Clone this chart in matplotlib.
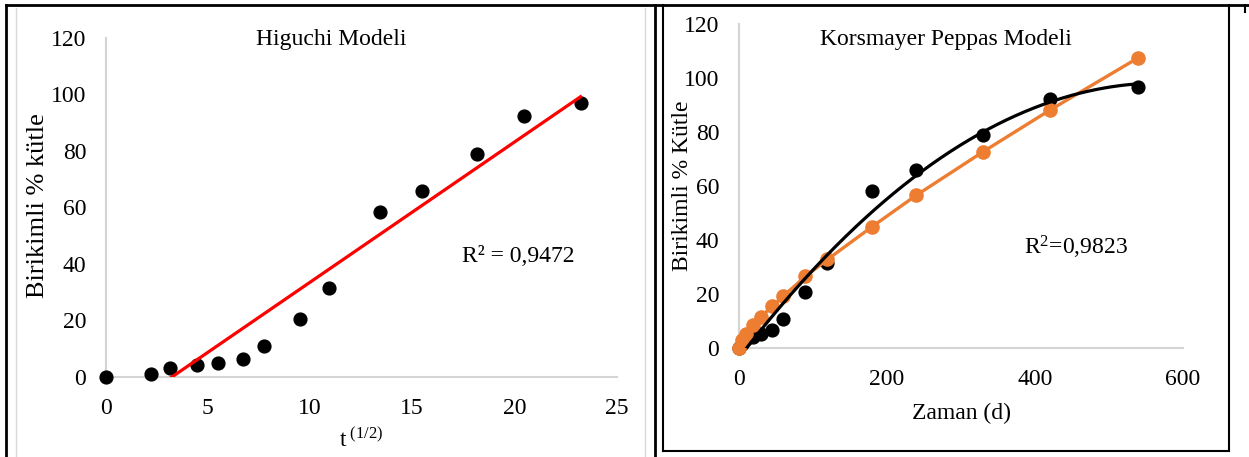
import matplotlib
matplotlib.use("Agg")
import matplotlib.pyplot as plt
from matplotlib.lines import Line2D
import numpy as np

plt.rcParams['font.family'] = ['Liberation Serif', 'DejaVu Serif']
plt.rcParams['mathtext.fontset'] = 'custom'
plt.rcParams['mathtext.rm'] = 'Liberation Serif'
plt.rcParams['mathtext.it'] = 'Liberation Serif:italic'

# data
time_d = [0, 5, 10, 20, 30, 45, 60, 90, 120, 180, 240, 330, 420, 540]
sqrt_t = [0, 2.24, 3.16, 4.47, 5.48, 6.71, 7.75, 9.49, 10.95, 13.42, 15.49, 18.17, 20.49, 23.24]
release = [0, 1.2, 3.2, 4.1, 4.9, 6.4, 10.8, 20.5, 31.4, 58.2, 65.7, 78.8, 92.2, 96.7]
kp_model = [0, 2.9, 5.0, 8.4, 11.4, 15.3, 19.0, 26.4, 32.7, 44.8, 56.5, 72.6, 88.0, 107.5]

W, H = 1249, 457
FS = 17


def fx(x):
    return x / W


def fy(y):
    return 1 - y / H


fig = plt.figure(figsize=(W / 100, H / 100), dpi=100)

ax1 = fig.add_axes([fx(105.7), fy(377), (616.5 - 105.7) / W, (377 - 37.5) / H])
ax2 = fig.add_axes([fx(738.6), fy(347.7), (1182.8 - 738.6) / W, (347.7 - 24) / H])

for ax in (ax1, ax2):
    for s in ('top', 'right'):
        ax.spines[s].set_visible(False)
    for s in ('left', 'bottom'):
        ax.spines[s].set_color('#d4d4d4')
        ax.spines[s].set_linewidth(1.5)
    ax.set_facecolor('none')

# Higuchi
ax1.scatter(sqrt_t, release, s=85, color='black', zorder=3, clip_on=False)
k1 = np.polyfit(sqrt_t, release, 1)
xx = np.array([0, sqrt_t[-1]])
ax1.plot(xx, np.polyval(k1, xx), color='#ff0000', lw=2.3, zorder=4)
ax1.set_xlim(0, 25)
ax1.set_ylim(0, 120)
ax1.set_xticks([0, 5, 10, 15, 20, 25])
ax1.set_yticks([0, 20, 40, 60, 80, 100, 120])
ax1.tick_params(axis='x', length=0, labelsize=FS, pad=15)
ax1.tick_params(axis='y', length=0, labelsize=FS, pad=14)

# Korsmeyer Peppas
ax2.scatter(time_d, release, s=85, color='black', zorder=3, clip_on=False)
ax2.plot(time_d, kp_model, color='#ed7d31', lw=2.4, marker='o', ms=9.5, zorder=4, clip_on=False)
k2 = np.polyfit(time_d, release, 2)
tt = np.linspace(0, time_d[-1], 300)
ax2.plot(tt, np.polyval(k2, tt), color='black', lw=2.3, zorder=5)
ax2.set_xlim(0, 600)
ax2.set_ylim(0, 120)
ax2.set_xticks([0, 200, 400, 600])
ax2.set_yticks([0, 20, 40, 60, 80, 100, 120])
ax2.tick_params(axis='x', length=0, labelsize=FS, pad=15)
ax2.tick_params(axis='y', length=0, labelsize=FS, pad=14)

# texts
fig.text(fx(331), fy(40), 'Higuchi Modeli', fontsize=FS, ha='center', va='center')
fig.text(fx(518), fy(257), 'R² = 0,9472', fontsize=FS, ha='center', va='center')
fig.text(fx(38), fy(206), 'Birikimli % kütle', fontsize=19, rotation=90, ha='center', va='center')
fig.text(fx(361), fy(440), r'$\mathrm{t}^{\ (1/2)}$', fontsize=FS, ha='center', va='center')

fig.text(fx(946), fy(40), 'Korsmayer Peppas Modeli', fontsize=FS, ha='center', va='center')
fig.text(fx(1076), fy(247), r'R$^{2}$=0,9823', fontsize=FS, ha='center', va='center')
fig.text(fx(682), fy(186), 'Birikimli % Kütle', fontsize=FS, rotation=90, ha='center', va='center')
fig.text(fx(961), fy(413), 'Zaman (d)', fontsize=FS, ha='center', va='center')

# panel frames
frame = [
    ((6, 5), (1249, 5), 'black', 2),
    ((6, 5), (6, 457), 'black', 2),
    ((16, 8), (16, 457), '#d9d9d9', 1),
    ((645, 8), (645, 457), '#d9d9d9', 1),
    ((655, 5), (655, 457), 'black', 2),
    ((663, 5), (663, 451), 'black', 1.5),
    ((663, 451), (1229, 451), 'black', 1.5),
    ((1229, 5), (1229, 451), 'black', 1.5),
    ((1245, 5), (1245, 12), 'black', 1.5),
]
for (x0, y0), (x1, y1), c, lw in frame:
    fig.add_artist(Line2D([fx(x0), fx(x1)], [fy(y0), fy(y1)], color=c, lw=lw,
                          transform=fig.transFigure))

fig.savefig('out.png', dpi=100)
